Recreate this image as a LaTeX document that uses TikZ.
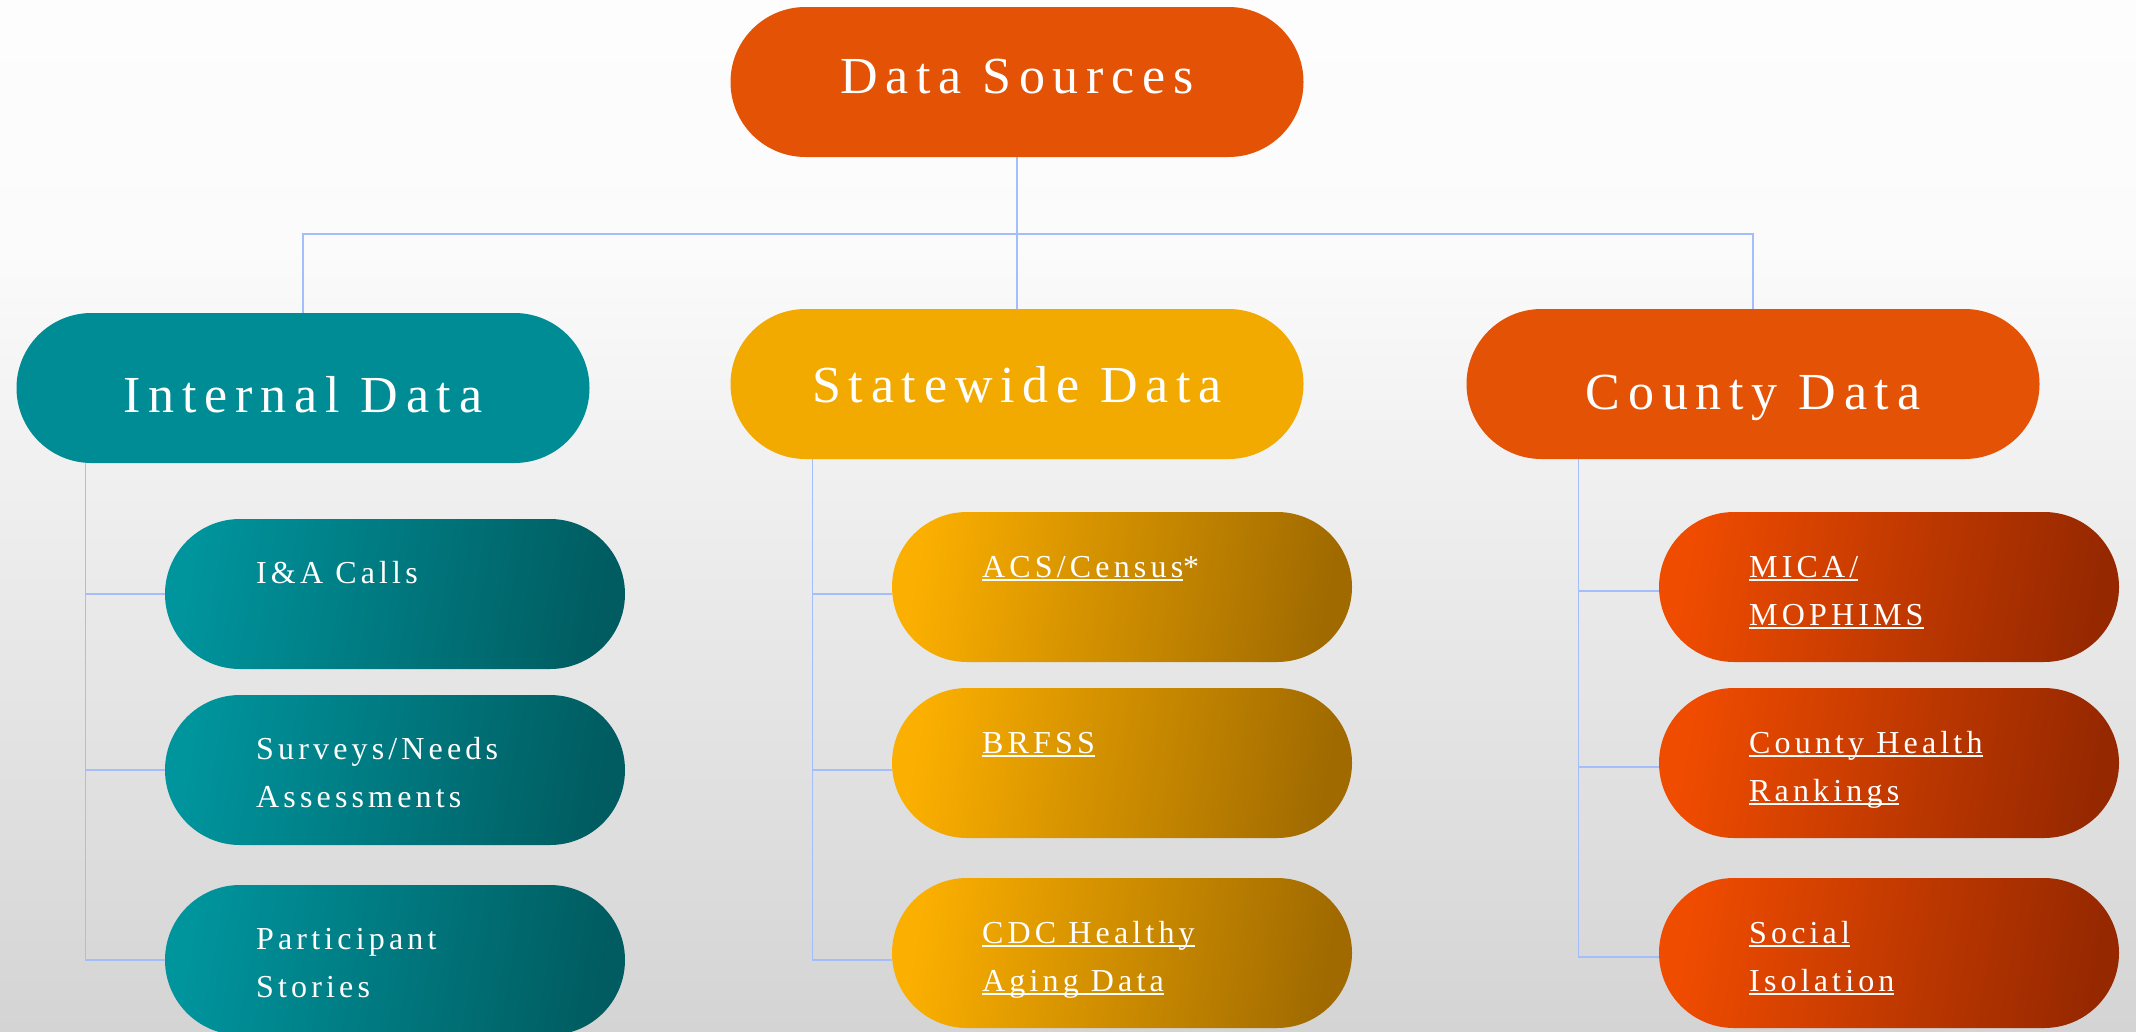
\documentclass[tikz,border=0pt]{standalone}
\usepackage{fontspec}
\setmainfont{Liberation Serif}
\newfontfamily\topfont[LetterSpace=15]{Liberation Serif}
\newfontfamily\subfont[LetterSpace=13]{Liberation Serif}
\usetikzlibrary{calc}
\definecolor{bgB}{RGB}{212,212,212}
\definecolor{bgM}{RGB}{251,251,251}
\definecolor{bgT}{RGB}{253,253,253}
\definecolor{orangeD}{RGB}{227,82,5}
\definecolor{tealD}{RGB}{0,140,149}
\definecolor{goldD}{RGB}{242,169,0}
\definecolor{tealL}{RGB}{0,148,157}
\definecolor{tealR}{RGB}{0,92,96}
\definecolor{goldL}{RGB}{251,175,0}
\definecolor{goldR}{RGB}{160,106,0}
\definecolor{orL}{RGB}{240,76,0}
\definecolor{orR}{RGB}{150,40,0}
\definecolor{connc}{RGB}{164,190,252}
\pgfdeclareverticalshading{bgshade}{100bp}{color(0bp)=(bgB); color(25bp)=(bgB); color(63bp)=(bgM); color(75bp)=(bgT); color(100bp)=(bgT)}
\pgfdeclarelayer{bglayer}
\pgfdeclarelayer{linelayer}
\pgfsetlayers{bglayer,linelayer,main}
\newsavebox{\myulbox}
\newcommand{\myul}[1]{\sbox{\myulbox}{#1}\rlap{\rule[-3.5pt]{\wd\myulbox}{1.4pt}}\usebox{\myulbox}}
\begin{document}
\begin{tikzpicture}[x=1pt,y=-1pt,
  topbox/.style={rectangle, rounded corners=75pt, minimum width=573pt, minimum height=150pt, inner sep=0pt, outer sep=0pt},
  subbox/.style={rectangle, rounded corners=75pt, minimum width=460pt, minimum height=150pt, inner sep=0pt, outer sep=0pt},
  tealshade/.style={shading=axis, left color=tealL, right color=tealR, shading angle=80},
  goldshade/.style={shading=axis, left color=goldL, right color=goldR, shading angle=80},
  orshade/.style={shading=axis, left color=orL, right color=orR, shading angle=80},
  toptext/.style={font=\topfont\fontsize{52}{60}\selectfont, text=white, anchor=base, inner sep=0pt},
  subtext/.style={font=\subfont\fontsize{32}{48}\selectfont, text=white, anchor=base west, inner sep=0pt},
  conn/.style={draw=connc, line width=1.6pt}]
\useasboundingbox (0,0) rectangle (2136,1031);
\begin{pgfonlayer}{bglayer}
\shade[shading=bgshade] (0,0) rectangle (2136,1031);
\end{pgfonlayer}

% top level
\node[topbox, fill=orangeD] (ds) at (1017,82) {};
\node[topbox, fill=tealD] (id) at (303,388) {};
\node[topbox, fill=goldD] (sd) at (1017,384) {};
\node[topbox, fill=orangeD] (cd) at (1753,384) {};
\node[toptext] (dst) at ($(ds.center)+(0,11)$) {Data Sources};
\node[toptext] (idt) at ($(id.center)+(0,24)$) {Internal Data};
\node[toptext] (sdt) at ($(sd.center)+(0,18)$) {Statewide Data};
\node[toptext] (cdt) at ($(cd.center)+(0,25)$) {County Data};

% children internal
\node[subbox, tealshade] (ia) at (395,594) {};
\node[subbox, tealshade] (sn) at (395,770) {};
\node[subbox, tealshade] (ps) at (395,960) {};
% children statewide
\node[subbox, goldshade] (acs) at (1122,587) {};
\node[subbox, goldshade] (brf) at (1122,763) {};
\node[subbox, goldshade] (cdc) at (1122,953) {};
% children county
\node[subbox, orshade] (mica) at (1889,587) {};
\node[subbox, orshade] (chr) at (1889,763) {};
\node[subbox, orshade] (soc) at (1889,953) {};

% child texts
\node[subtext] (iat) at ($(ia.west)+(91,-11)$) {I\&A Calls};
\node[subtext] (snt1) at ($(sn.west)+(91,-11)$) {Surveys/Needs};
\node[subtext] (snt2) at ($(sn.west)+(91,37)$) {Assessments};
\node[subtext] (pst1) at ($(ps.west)+(91,-11)$) {Participant};
\node[subtext] (pst2) at ($(ps.west)+(91,37)$) {Stories};

\node[subtext] (acst) at ($(acs.west)+(90,-10)$) {\myul{ACS/Census}*};
\node[subtext] (brft) at ($(brf.west)+(90,-10)$) {\myul{BRFSS}};
\node[subtext] (cdct1) at ($(cdc.west)+(90,-10)$) {\myul{CDC Healthy}};
\node[subtext] (cdct2) at ($(cdc.west)+(90,38)$) {\myul{Aging Data}};

\node[subtext] (micat1) at ($(mica.west)+(90,-10)$) {\myul{MICA/}};
\node[subtext] (micat2) at ($(mica.west)+(90,38)$) {\myul{MOPHIMS}};
\node[subtext] (chrt1) at ($(chr.west)+(90,-10)$) {\myul{County Health}};
\node[subtext] (chrt2) at ($(chr.west)+(90,38)$) {\myul{Rankings}};
\node[subtext] (soct1) at ($(soc.west)+(90,-10)$) {\myul{Social}};
\node[subtext] (soct2) at ($(soc.west)+(90,38)$) {\myul{Isolation}};

% connectors
\begin{pgfonlayer}{linelayer}
\coordinate (jn) at ($(ds.south)+(0,77)$);
\draw[conn] (ds.south) -- (sd.north);
\draw[conn] (jn) -| (id.north);
\draw[conn] (jn) -| (cd.north);

\coordinate (isp) at ($(id.south west)+(69,0)$);
\draw[conn] (isp) |- (ps.west);
\draw[conn] (isp |- ia.west) -- (ia.west);
\draw[conn] (isp |- sn.west) -- (sn.west);

\coordinate (ssp) at ($(sd.south west)+(82,0)$);
\coordinate (acsj) at ([yshift=-7pt]acs.west);
\coordinate (brfj) at ([yshift=-7pt]brf.west);
\coordinate (cdcj) at ([yshift=-7pt]cdc.west);
\draw[conn] (ssp) |- (cdcj);
\draw[conn] (ssp |- acsj) -- (acsj);
\draw[conn] (ssp |- brfj) -- (brfj);

\coordinate (csp) at ($(cd.south west)+(112,0)$);
\coordinate (micaj) at ([yshift=-4pt]mica.west);
\coordinate (chrj) at ([yshift=-4pt]chr.west);
\coordinate (socj) at ([yshift=-4pt]soc.west);
\draw[conn] (csp) |- (socj);
\draw[conn] (csp |- micaj) -- (micaj);
\draw[conn] (csp |- chrj) -- (chrj);
\end{pgfonlayer}
\end{tikzpicture}
\end{document}
